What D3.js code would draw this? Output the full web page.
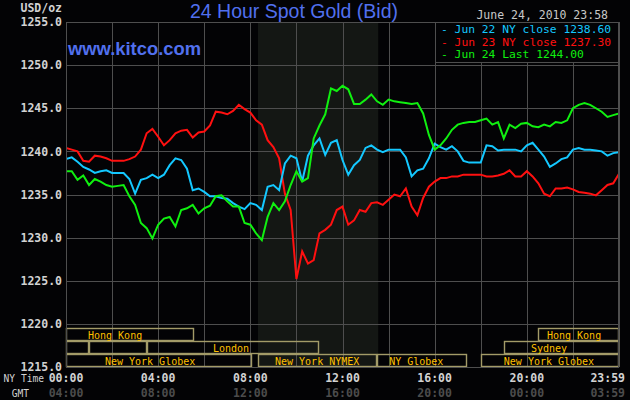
<!DOCTYPE html>
<html><head><meta charset="utf-8">
<script src="https://cdn.jsdelivr.net/npm/d3@7"></script>
<style>
html,body{margin:0;padding:0;background:#030305;}
svg{display:block;}
</style></head><body>
<svg id="c" width="630" height="400"></svg>
<script>
// ---------- data ----------
const title = "24 Hour Spot Gold (Bid)";
const site = "www.kitco.com";
const stamp = "June 24, 2010 23:58";
const unitLabel = "USD/oz";
const yTicks = [1215, 1220, 1225, 1230, 1235, 1240, 1245, 1250, 1255];
const xTickHours = [0, 4, 8, 12, 16, 20, 24];
const nyLabels = ["00:00", "04:00", "08:00", "12:00", "16:00", "20:00", "23:59"];
const gmtLabels = ["04:00", "08:00", "12:00", "16:00", "20:00", "00:00", "03:59"];
const seriesNames = ["Jun 22 NY close 1238.60", "Jun 23 NY close 1237.30", "Jun 24 Last 1244.00"];
const seriesColors = ["#14c8ff", "#ff1010", "#10f010"];
const stepHours = 0.25; // one sample every 15 minutes, 00:00 .. 24:00

const jun22 = [1239.1,1239.3,1238.8,1238.2,1237.9,1237.5,1237.7,1237.8,1237.5,1237.5,1237.5,1236.8,1235.1,1236.7,1236.9,1237.3,1236.9,1237.3,1238.4,1239.2,1239.0,1238.0,1235.5,1235.7,
1235.3,1234.8,1234.8,1234.6,1234.5,1234.0,1233.6,1233.3,1234.0,1233.8,1233.2,1235.9,1236.1,1235.5,1238.6,1239.5,1239.2,1236.5,1239.5,1240.7,1241.5,1239.6,1241.0,1241.3,
1239.0,1237.3,1238.4,1239.0,1240.4,1240.7,1240.2,1239.9,1240.2,1240.2,1240.2,1239.3,1237.1,1237.8,1238.0,1239.2,1240.9,1240.5,1240.2,1240.6,1240.0,1238.9,1238.7,
1238.7,1238.7,1240.7,1240.6,1240.1,1240.2,1240.2,1240.2,1240.0,1240.7,1241.0,1240.2,1239.4,1238.2,1238.6,1239.1,1239.3,1240.2,1240.4,1240.2,1240.2,1240.1,1240.0,1239.5,1239.8,1239.9];

const jun23 = [1240.4,1240.2,1240.0,1238.9,1238.8,1239.5,1239.4,1239.2,1238.9,1238.9,1238.9,1239.1,1239.4,1240.2,1242.1,1242.6,1241.7,1240.7,1241.3,1242.1,1242.4,1242.5,1241.6,1242.2,
1242.3,1243.0,1244.6,1244.5,1244.3,1244.7,1245.4,1244.9,1244.5,1243.6,1243.1,1241.3,1240.5,1239.2,1235.1,1233.2,1225.2,1228.4,1227.0,1227.4,1230.5,1230.9,1231.5,1233.2,
1233.6,1231.5,1232.0,1233.2,1233.0,1234.0,1234.1,1233.8,1234.4,1235.0,1234.8,1235.7,1233.6,1232.6,1234.6,1235.9,1236.5,1236.9,1236.9,1237.1,1237.1,1237.3,1237.3,
1237.3,1237.3,1237.1,1237.1,1237.2,1237.4,1237.8,1237.1,1237.1,1237.7,1237.1,1236.3,1235.1,1234.8,1235.7,1235.7,1235.8,1235.6,1235.3,1235.2,1235.1,1234.9,1235.5,1236.1,1236.3,1237.4];

const jun24 = [1237.7,1237.7,1236.7,1237.2,1236.1,1236.8,1236.5,1236.1,1235.9,1236.0,1236.1,1234.8,1233.8,1231.7,1231.1,1229.9,1231.5,1232.2,1232.4,1231.3,1233.2,1233.4,1233.8,1232.8,
1233.4,1233.7,1234.8,1234.9,1234.2,1233.6,1233.6,1231.7,1231.5,1230.5,1229.7,1232.4,1234.0,1233.2,1234.2,1236.1,1237.7,1236.5,1236.9,1241.5,1243.0,1244.3,1247.3,1247.0,
1247.6,1247.2,1245.5,1245.5,1246.0,1246.6,1245.8,1245.4,1246.0,1245.8,1245.7,1245.6,1245.5,1245.6,1244.4,1241.9,1240.2,1240.7,1241.5,1242.5,1243.1,1243.3,1243.4,
1243.4,1243.6,1243.8,1243.1,1243.4,1241.5,1243.1,1242.7,1243.2,1243.3,1242.9,1242.8,1243.1,1242.9,1243.4,1243.3,1243.6,1245.0,1245.4,1245.6,1245.4,1245.0,1244.6,1244.0,1244.2,1244.4];

const sessionNames    = ["Hong Kong", "", "", "London", "New York Globex", "New York NYMEX", "NY Globex", "New York Globex", "Sydney", "Hong Kong"];
const sessionRows     = [0, 1, 1, 1, 2, 2, 2, 2, 1, 0];
const sessionStart    = [0, 0, 1, 3.5, 0, 8.33, 13.5, 18, 19, 20.5];
const sessionEnd      = [5.55, 1, 3.5, 11, 8.07, 13.5, 17.4, 24, 24, 24];
const sessionLabelAt  = [2.13, null, null, 7.16, 3.65, 10.9, 15.2, 20.96, 20.96, 22.05];
const pitHours = [8.33, 13.55];

// ---------- layout ----------
const svg = d3.select("#c");
const W = 630, H = 400;
const L = 66, R = 619, T = 22, B = 367;
const rowH = 13;
const grid = "#4e4e4e";
const mono = "'DejaVu Sans Mono', monospace";

svg.append("rect").attr("width", W).attr("height", H).attr("fill", "#030305");

const x = d3.scaleLinear().domain([0, 24]).range([L, R]);
const y = d3.scaleLinear().domain([1215, 1255]).range([B, T]);

// pit shading
svg.append("rect")
  .attr("x", x(pitHours[0])).attr("y", T)
  .attr("width", x(pitHours[1]) - x(pitHours[0])).attr("height", B - T)
  .attr("fill", "#141714");

// grid
const gridG = svg.append("g");
gridG.selectAll("line.h").data(yTicks).join("line")
  .attr("x1", L).attr("x2", R)
  .attr("y1", d => Math.round(y(d)) + 0.5).attr("y2", d => Math.round(y(d)) + 0.5)
  .attr("stroke", grid).attr("stroke-width", 1);
gridG.selectAll("line.v").data(d3.range(0, 25, 2)).join("line")
  .attr("y1", T).attr("y2", B)
  .attr("x1", d => Math.round(x(d)) + 0.5).attr("x2", d => Math.round(x(d)) + 0.5)
  .attr("stroke", grid).attr("stroke-width", 1);

// sessions
const sess = sessionNames.map((n, i) => ({ n, row: sessionRows[i], s: sessionStart[i], e: sessionEnd[i], at: sessionLabelAt[i] }));
const rowTop = r => B - rowH * (3 - r);
const sg = svg.append("g");
sg.selectAll("rect").data(sess).join("rect")
  .attr("x", d => Math.round(x(d.s)) + 0.5)
  .attr("y", d => rowTop(d.row) + 0.5)
  .attr("width", d => Math.round(x(d.e)) - Math.round(x(d.s)) - 1)
  .attr("height", rowH - 1)
  .attr("fill", "none").attr("stroke", "#a39b68").attr("stroke-width", 1.4);
sg.selectAll("text").data(sess.filter(d => d.n)).join("text")
  .attr("x", d => x(d.at)).attr("y", d => rowTop(d.row) + 10.5)
  .attr("text-anchor", "middle")
  .attr("font-family", mono).attr("font-size", 10)
  .attr("fill", "#ffc000").text(d => d.n);

// series lines
const series = [jun23, jun22, jun24];
const colorOf = [seriesColors[1], seriesColors[0], seriesColors[2]];
const line = d3.line().x((d, i) => x(i * stepHours)).y(d => y(d));
svg.append("defs").append("clipPath").attr("id", "clip")
  .append("rect").attr("x", L).attr("y", T).attr("width", R - L).attr("height", B - T);
const lg = svg.append("g").attr("clip-path", "url(#clip)");
series.forEach((s, k) => {
  lg.append("path").datum(s).attr("d", line)
    .attr("fill", "none").attr("stroke", colorOf[k]).attr("stroke-width", 2)
    .attr("stroke-linejoin", "miter");
});

// plot frame
svg.append("rect").attr("x", L + 0.5).attr("y", T + 0.5).attr("width", R - L - 1).attr("height", B - T)
  .attr("fill", "none").attr("stroke", grid);

// legend
const lgX = 435, lgH = 40;
svg.append("rect").attr("x", lgX + 0.5).attr("y", T + 0.5).attr("width", R - lgX - 1).attr("height", lgH)
  .attr("fill", "#030305").attr("stroke", grid);
const lgRows = svg.append("g");
seriesNames.forEach((n, i) => {
  lgRows.append("text").attr("x", lgX + 6).attr("y", T + 11 + i * 12.5)
    .attr("font-family", mono).attr("font-size", 11.3)
    .attr("fill", seriesColors[i]).attr("xml:space", "preserve").text("- " + n);
});

// y axis labels
const yAxis = d3.axisLeft(y).tickValues(yTicks).tickSize(0).tickPadding(4).tickFormat(d3.format(".1f"));
const ya = svg.append("g").attr("transform", `translate(${L},0)`).call(yAxis);
ya.select(".domain").remove();
ya.selectAll("text").attr("font-family", mono).attr("font-size", 11.5).attr("font-weight", "bold").attr("fill", "#d2d2d2");

svg.append("text").attr("x", 62).attr("y", 12).attr("text-anchor", "end")
  .attr("font-family", mono).attr("font-size", 11.5).attr("font-weight", "bold").attr("fill", "#d2d2d2").text(unitLabel);

// x axis labels
const xl = svg.append("g");
xTickHours.forEach((h, i) => {
  const last = i === xTickHours.length - 1;
  xl.append("text").attr("x", last ? x(h) + 6 : x(h)).attr("y", 382)
    .attr("text-anchor", last ? "end" : "middle")
    .attr("font-family", mono).attr("font-size", 11.5).attr("font-weight", "bold").attr("fill", "#d2d2d2").text(nyLabels[i]);
  xl.append("text").attr("x", last ? x(h) + 6 : x(h)).attr("y", 397)
    .attr("text-anchor", last ? "end" : "middle")
    .attr("font-family", mono).attr("font-size", 11.5).attr("font-weight", "bold").attr("fill", "#4c4c4c").text(gmtLabels[i]);
});
xl.append("text").attr("x", 44).attr("y", 382).attr("text-anchor", "end")
  .attr("font-family", mono).attr("font-size", 9.6).attr("fill", "#d2d2d2").text("NY Time");
xl.append("text").attr("x", 29).attr("y", 397).attr("text-anchor", "end")
  .attr("font-family", mono).attr("font-size", 9.6).attr("fill", "#d2d2d2").text("GMT");

// titles
svg.append("text").attr("x", 294).attr("y", 18).attr("text-anchor", "middle")
  .attr("font-family", "'Liberation Sans', Arial, sans-serif").attr("font-size", 19.5)
  .attr("fill", "#5170ee").text(title);
svg.append("text").attr("x", 68).attr("y", 55)
  .attr("font-family", "'Liberation Sans', Arial, sans-serif").attr("font-size", 19).attr("font-weight", "bold")
  .attr("textLength", 133).attr("lengthAdjust", "spacingAndGlyphs")
  .attr("fill", "#5170ee").text(site);
svg.append("text").attr("x", 608).attr("y", 19).attr("text-anchor", "end")
  .attr("font-family", mono).attr("font-size", 11.5).attr("fill", "#c8c8c8").text(stamp);
</script>
</body></html>
